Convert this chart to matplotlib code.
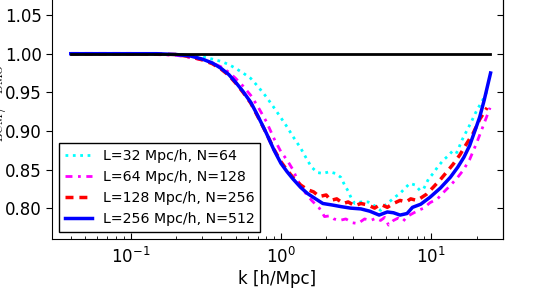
import matplotlib
matplotlib.use('Agg')
import matplotlib.pyplot as plt

# P_BCM / P_DMO ratio, one list per box size
k_256 = [0.04, 0.06, 0.1, 0.15, 0.2, 0.25, 0.3, 0.35, 0.4, 0.45, 0.5, 0.56, 0.63, 0.7,
         0.8, 0.9, 1.0, 1.1, 1.2, 1.35, 1.5, 1.7, 1.9, 2.2, 2.5, 2.9, 3.4, 3.9, 4.5,
         5.1, 5.6, 6.2, 6.9, 7.5, 8.5, 9.8, 11.5, 13.4, 15, 16.5, 18, 19.5, 21, 22.5, 24.8]
r_256 = [1.0, 1.0, 1.0, 1.0, 0.999, 0.997, 0.993, 0.988, 0.981, 0.973, 0.963, 0.951, 0.937, 0.92,
         0.897, 0.875, 0.858, 0.847, 0.838, 0.827, 0.819, 0.812, 0.806, 0.804, 0.802, 0.800, 0.799, 0.796, 0.791,
         0.795, 0.794, 0.791, 0.793, 0.801, 0.805, 0.814, 0.826, 0.840, 0.853, 0.866, 0.881, 0.900, 0.918, 0.940, 0.975]

k_128 = [0.04, 0.1, 0.2, 0.25, 0.3, 0.35, 0.4, 0.45, 0.5, 0.56, 0.63, 0.7, 0.8, 0.9, 1.0,
         1.1, 1.2, 1.35, 1.5, 1.65, 1.8, 2.0, 2.15, 2.35, 2.6, 2.8, 3.1, 3.4, 3.8, 4.2,
         4.6, 5.1, 5.6, 6.2, 6.8, 7.3, 8.0, 8.5, 9.3, 10.3, 11.5, 12.7, 14, 15.5, 17, 19,
         21, 23.5]
r_128 = [1.0, 1.0, 0.999, 0.996, 0.992, 0.987, 0.980, 0.972, 0.962, 0.950, 0.936, 0.919, 0.897, 0.876, 0.86,
         0.849, 0.840, 0.830, 0.824, 0.821, 0.815, 0.817, 0.810, 0.812, 0.806, 0.808, 0.803, 0.806, 0.804, 0.800,
         0.805, 0.801, 0.806, 0.810, 0.808, 0.812, 0.810, 0.813, 0.818, 0.827, 0.837, 0.847, 0.857, 0.869, 0.882, 0.897,
         0.915, 0.930]

k_64 = [0.04, 0.1, 0.2, 0.25, 0.3, 0.35, 0.4, 0.45, 0.5, 0.56, 0.63, 0.7, 0.8, 0.9, 1.0,
        1.1, 1.2, 1.3, 1.45, 1.6, 1.8, 1.95, 2.1, 2.25, 2.45, 2.7, 3.0, 3.25, 3.6, 3.95,
        4.3, 4.6, 4.9, 5.2, 5.6, 6.0, 6.5, 6.9, 7.5, 8.2, 8.9, 9.8, 11, 12, 13.5, 15,
        16.3, 18, 20, 22, 24.6]
r_64 = [1.0, 1.0, 0.998, 0.995, 0.992, 0.988, 0.983, 0.976, 0.968, 0.958, 0.946, 0.932, 0.912, 0.890, 0.873,
        0.862, 0.850, 0.835, 0.820, 0.810, 0.800, 0.789, 0.790, 0.786, 0.784, 0.786, 0.781, 0.780, 0.786, 0.784,
        0.787, 0.784, 0.788, 0.778, 0.784, 0.787, 0.783, 0.789, 0.793, 0.797, 0.800, 0.807, 0.812, 0.820, 0.830, 0.840,
        0.849, 0.863, 0.884, 0.905, 0.930]

k_32 = [0.04, 0.1, 0.2, 0.25, 0.3, 0.35, 0.4, 0.45, 0.5, 0.56, 0.63, 0.7, 0.8, 0.9, 1.0,
        1.1, 1.2, 1.35, 1.5, 1.6, 1.75, 1.9, 2.1, 2.3, 2.5, 2.65, 2.8, 2.95, 3.1, 3.4,
        3.8, 4.2, 4.6, 5.0, 5.4, 5.8, 6.2, 6.7, 7.2, 7.8, 8.4, 8.9, 9.6, 10.3, 11, 12,
        13, 14, 14.8, 16, 17.2, 18.5, 20, 22, 24]
r_32 = [1.0, 1.0, 0.999, 0.998, 0.996, 0.993, 0.990, 0.986, 0.981, 0.975, 0.968, 0.958, 0.944, 0.930, 0.917,
        0.905, 0.893, 0.878, 0.862, 0.853, 0.846, 0.845, 0.847, 0.845, 0.840, 0.830, 0.822, 0.812, 0.806, 0.808,
        0.808, 0.803, 0.797, 0.805, 0.810, 0.815, 0.819, 0.826, 0.832, 0.830, 0.823, 0.825, 0.838, 0.845, 0.853, 0.862,
        0.868, 0.875, 0.872, 0.888, 0.900, 0.912, 0.926, 0.940, 0.955]

ref_k = [0.04, 24.5]
ref_r = [1.0, 1.0]

labels = ['L=32 Mpc/h, N=64', 'L=64 Mpc/h, N=128',
          'L=128 Mpc/h, N=256', 'L=256 Mpc/h, N=512']

fig = plt.figure(figsize=(5.46, 2.94), dpi=100)
# top of the axes sits above the figure, the reference is cropped there
ax = fig.add_axes([52 / 546, 55 / 294, 451 / 546, 262.5 / 294])

ax.plot(k_32, r_32, color='cyan', ls=':', lw=2, label=labels[0])
ax.plot(k_64, r_64, color='magenta', lw=2, dashes=(2.5, 2, 1, 2), label=labels[1])
ax.plot(k_128, r_128, color='red', lw=2.5, dashes=(2.3, 1.7), label=labels[2])
ax.plot(k_256, r_256, color='blue', ls='-', lw=2.5, label=labels[3])
ax.plot(ref_k, ref_r, color='black', lw=2)

ax.set_xscale('log')
ax.set_xlim(0.03, 30)
ax.set_ylim(0.76, 1.10)
ax.set_yticks([0.80, 0.85, 0.90, 0.95, 1.00, 1.05])
ax.set_yticklabels(['0.80', '0.85', '0.90', '0.95', '1.00', '1.05'])

ax.tick_params(axis='x', which='both', direction='in', top=True, labelsize=12, pad=6)
ax.tick_params(axis='x', which='major', length=4.5)
ax.tick_params(axis='x', which='minor', length=2.5)
ax.tick_params(axis='y', direction='out', length=4, labelsize=12)
sec = ax.secondary_yaxis('right')
sec.set_yticks([0.80, 0.85, 0.90, 0.95, 1.00, 1.05])
sec.tick_params(direction='in', length=4, labelright=False)

ax.set_xlabel('k [h/Mpc]', fontsize=12, labelpad=2)
ax.set_ylabel(r'$P_{\rm BCM}/P_{\rm DMO}$', fontsize=12, math_fontfamily='cm')
ax.yaxis.set_label_coords(-0.098, 0.5)

leg = ax.legend(loc='lower left', fontsize=10.2, fancybox=False, framealpha=1,
                edgecolor='black', handlelength=1.9, labelspacing=0.5)
leg.get_frame().set_linewidth(1.0)

fig.savefig('out.png', dpi=100)
